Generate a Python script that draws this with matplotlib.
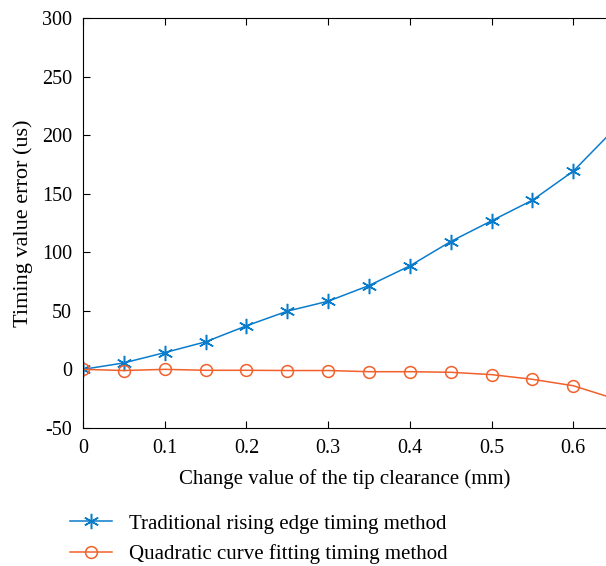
import numpy as np
import matplotlib.pyplot as plt

plt.rcParams['font.family'] = ['Liberation Serif', 'DejaVu Serif']
plt.rcParams['axes.unicode_minus'] = False

# tip clearance change (mm)
clearance = [0, 0.05, 0.1, 0.15, 0.2, 0.25, 0.3, 0.35, 0.4, 0.45, 0.5, 0.55, 0.6, 0.65]
# timing error (us)
rising_edge = [0, 5.5, 14.3, 23.5, 37.2, 49.7, 58.2, 71.6, 88.4, 109.2, 126.9, 144.5, 169.3, 205]
quad_fit = [0, -1, 0, -0.8, -0.8, -1, -1, -2, -2, -2.5, -4.5, -8.5, -14, -25]

fig = plt.figure(figsize=(6.06, 5.66), dpi=100)
ax = fig.add_axes([0.137, 0.244, 0.863, 0.724])

l1, = ax.plot(clearance, rising_edge, color='#0a7ccc', lw=1.1, marker=(6, 2, 0),
              ms=11, mew=1.1, label='Traditional rising edge timing method')
l2, = ax.plot(clearance, quad_fit, color='#f2602b', lw=1.1, marker='o',
              ms=8.5, mew=1.1, markerfacecolor='none', label='Quadratic curve fitting timing method')

ax.set_xlim(0, 0.64)
ax.set_ylim(-50, 300)
ax.set_xticks([0, 0.1, 0.2, 0.3, 0.4, 0.5, 0.6])
ax.set_xticklabels(['0', '0.1', '0.2', '0.3', '0.4', '0.5', '0.6'])
ax.set_yticks(np.arange(-50, 301, 50))
ax.tick_params(direction='in', top=True, right=False, labelsize=14.5, length=5, pad=8)
ax.spines['right'].set_visible(False)
ax.set_xlabel('Change value of the tip clearance (mm)', fontsize=15, labelpad=8)
ax.set_ylabel('Timing value error (us)', fontsize=16, labelpad=6)

fig.legend(handles=[l1, l2], loc='upper left', bbox_to_anchor=(0.085, 0.125),
           frameon=False, fontsize=15, handlelength=2.0, handletextpad=0.8,
           labelspacing=0.5)

fig.savefig('out.png', dpi=100)
